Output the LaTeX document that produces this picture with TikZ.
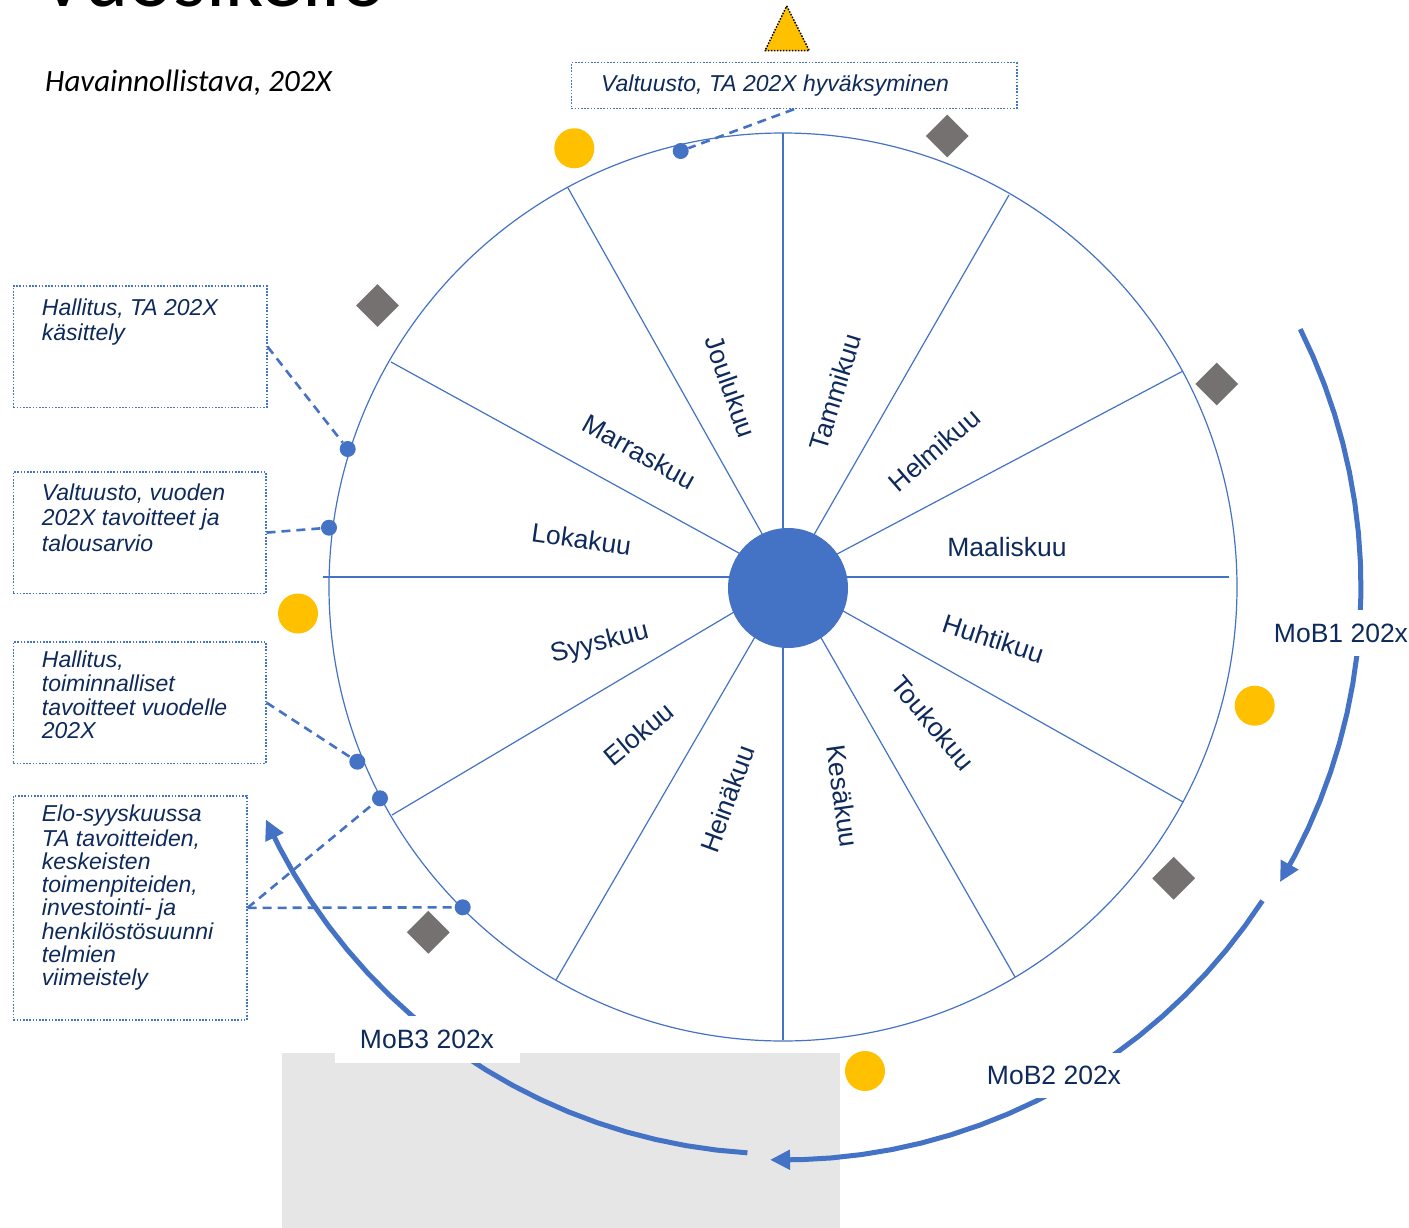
\documentclass[tikz,border=0pt]{standalone}
\usepackage{fontspec}
\setmainfont{Liberation Sans}
\newfontfamily\carlito{Carlito}
\usetikzlibrary{shapes.geometric,arrows.meta}
\definecolor{mblue}{HTML}{4472C4}
\definecolor{navy}{HTML}{0E2A5B}
\definecolor{gold}{HTML}{FFC000}
\definecolor{dgray}{HTML}{767171}
\definecolor{lgray}{HTML}{E6E6E6}
\begin{document}
\begin{tikzpicture}[x=1pt,y=-1pt,
 thinblue/.style={draw=mblue,line width=1.2pt},
 monthlbl/.style={text=navy,font=\fontsize{26.5}{30}\selectfont,inner sep=0pt},
 infobox/.style={draw=mblue,line width=1.5pt,dash pattern=on 1.6pt off 1.6pt,anchor=north west,inner sep=0pt},
 infotext/.style={text=navy,align=left,anchor=north west,inner sep=0pt},
 dashlink/.style={draw=mblue,line width=2.6pt,dash pattern=on 9pt off 6pt},
 pin/.style={circle,fill=mblue,minimum size=16pt,inner sep=0pt},
 sun/.style={circle,fill=gold,minimum size=40pt,inner sep=0pt},
 gem/.style={diamond,fill=dgray,minimum width=43pt,minimum height=43pt,inner sep=0pt},
 mobarc/.style={draw=mblue,line width=5pt,-{Triangle[length=20pt,width=19pt]}},
 moblbl/.style={fill=white,text=navy,font=\fontsize{26.5}{30}\selectfont,inner sep=0pt}
]
\useasboundingbox (0,0) rectangle (1409,1228);

% grey panel
\fill[lgray] (282,1053) rectangle (840,1228);

% title
\node[anchor=base west,font=\carlito\fontsize{84}{94}\selectfont,inner sep=0pt] (title) at (39,7) {Vuosikello};
\node[anchor=base west,font=\carlito\itshape\fontsize{31}{36}\selectfont,inner sep=0pt] (subtitle) at (45,91.7) {Havainnollistava, 202X};

% wheel
\draw[thinblue] (783,587) circle[radius=454pt];
\draw[thinblue] (783,133) -- (783,1040);
\draw[thinblue] (323,577) -- (1229,577);
\foreach \p in {(1009,195),(1183,371),(1183,802),(1015,977),(556,980),(392,815),(391,362),(568,188)}
  \draw[thinblue] (788,580) -- \p;
\node[circle,fill=mblue,minimum size=120pt,inner sep=0pt] (hub) at (788,588) {};

% months
\node[monthlbl,rotate=73] (m01) at (835,392) {Tammikuu};
\node[monthlbl,rotate=41] (m02) at (934.3,450) {Helmikuu};
\node[monthlbl] (m03) at (1007,546.7) {Maaliskuu};
\node[monthlbl,rotate=-18] (m04) at (993.3,638.8) {Huhtikuu};
\node[monthlbl,rotate=-50] (m05) at (932.8,722.8) {Toukokuu};
\node[monthlbl,rotate=-82] (m06) at (842.8,796.2) {Kesäkuu};
\node[monthlbl,rotate=70] (m07) at (727.3,798.7) {Heinäkuu};
\node[monthlbl,rotate=40] (m08) at (638.7,733.8) {Elokuu};
\node[monthlbl,rotate=14] (m09) at (599.8,643.8) {Syyskuu};
\node[monthlbl,rotate=-8] (m10) at (581.5,539.3) {Lokakuu};
\node[monthlbl,rotate=-29] (m11) at (639.5,451.7) {Marraskuu};
\node[monthlbl,rotate=-70.5] (m12) at (730.8,386.7) {Joulukuu};

% markers
\node[sun] (s1) at (574.3,148.3) {};
\node[sun] (s2) at (298,613.5) {};
\node[sun] (s3) at (1254.7,705.7) {};
\node[sun] (s4) at (865,1071) {};
\node[gem] (g1) at (947.3,136) {};
\node[gem] (g2) at (377.5,305.5) {};
\node[gem] (g3) at (1216.7,384) {};
\node[gem] (g4) at (1173.7,878.3) {};
\node[gem] (g5) at (428.3,932.3) {};
\draw[fill=gold,draw=black,line width=1.5pt,dash pattern=on 1.5pt off 1.5pt,line join=round] (786.7,6) -- (809.3,50.7) -- (765,50.7) -- cycle;

% info boxes
\node[infobox,minimum width=445.3pt,minimum height=45.7pt] (b1) at (570.7,62) {};
\node[infobox,minimum width=253.3pt,minimum height=121.7pt] (b2) at (12.7,285) {};
\node[infobox,minimum width=252.3pt,minimum height=121.7pt] (b3) at (12.7,471) {};
\node[infobox,minimum width=252.3pt,minimum height=121.7pt] (b4) at (12.7,641) {};
\node[infobox,minimum width=233.3pt,minimum height=224.3pt] (b5) at (12.7,795) {};

\node[infotext,font=\fontsize{23}{25}\selectfont\itshape] (t1) at (601,74.2) {\strut Valtuusto, TA 202X hyväksyminen};
\node[infotext,font=\fontsize{23}{25}\selectfont\itshape] (t2) at (41.7,297.5) {\strut Hallitus, TA 202X\\käsittely};
\node[infotext,font=\fontsize{23}{25.8}\selectfont\itshape] (t3) at (41.7,481.9) {\strut Valtuusto, vuoden\\202X tavoitteet ja\\talousarvio};
\node[infotext,font=\fontsize{23}{23.5}\selectfont\itshape] (t4) at (41.7,650.2) {\strut Hallitus,\\toiminnalliset\\tavoitteet vuodelle\\202X};
\node[infotext,font=\fontsize{23}{23.2}\selectfont\itshape] (t5) at (41.7,804.8) {\strut Elo-syyskuussa\\TA tavoitteiden,\\keskeisten\\toimenpiteiden,\\investointi- ja\\henkilöstösuunni\\telmien\\viimeistely};

% pins
\node[pin] (p1) at (680.7,151) {};
\node[pin] (p2) at (347.7,449) {};
\node[pin] (p3) at (329,527.7) {};
\node[pin] (p4) at (357.3,761.7) {};
\node[pin] (p5) at (380,798.3) {};
\node[pin] (p6) at (462.7,907.3) {};

\draw[dashlink] (b1.south) -- (p1);
\draw[dashlink] (b2.east) -- (p2);
\draw[dashlink] (b3.east) -- (p3);
\draw[dashlink] (b4.east) -- (p4);
\draw[dashlink] (b5.east) -- (p5);
\draw[dashlink] (b5.east) -- (p6);

% cycle arcs
\draw[mobarc] plot[domain=-26.5:30.7,samples=20] ({783+578*cos(\x)},{587+578*sin(\x)});
\draw[mobarc] plot[domain=33.2:91.3,samples=20] ({783+573*cos(\x)},{587+573*sin(\x)});
\draw[mobarc] plot[domain=93.6:155.8,samples=21] ({783+567*cos(\x)},{587+567*sin(\x)});

\node[moblbl,minimum width=136pt,minimum height=46pt] (mob1) at (1341,633) {MoB1 202x};
\node[moblbl,minimum width=160pt,minimum height=45pt] (mob2) at (1054,1075) {MoB2 202x};
\node[moblbl,minimum width=185pt,minimum height=47pt] (mob3) at (427,1039) {MoB3 202x};
\end{tikzpicture}
\end{document}
